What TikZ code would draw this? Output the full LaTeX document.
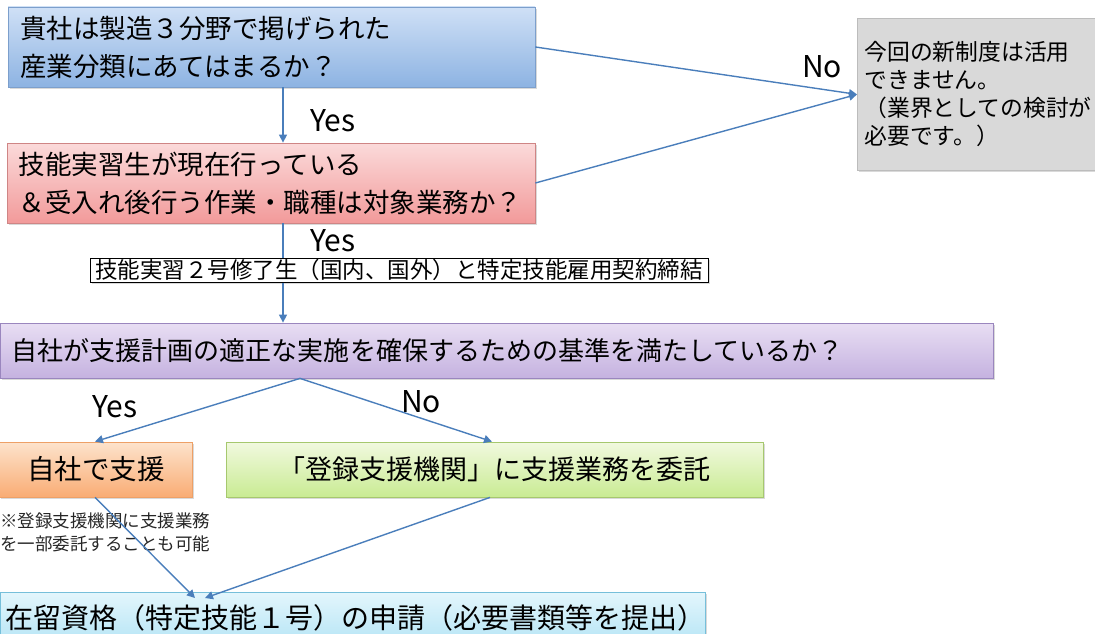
\documentclass[tikz,border=0pt]{standalone}
\usepackage{fontspec}
\setmainfont{Noto Sans CJK JP}
\usetikzlibrary{arrows.meta,shadows}
\definecolor{arrowc}{HTML}{4A7EBB}
\definecolor{bluet}{HTML}{CFE0F6}
\definecolor{blueb}{HTML}{8DB3E2}
\definecolor{bluebd}{HTML}{7C9FCC}
\definecolor{redt}{HTML}{FBDADA}
\definecolor{redb}{HTML}{F29A9A}
\definecolor{redbd}{HTML}{CF8585}
\definecolor{purt}{HTML}{E8DEF3}
\definecolor{purb}{HTML}{C5B2E0}
\definecolor{purbd}{HTML}{9A86BE}
\definecolor{orat}{HTML}{FDE3CC}
\definecolor{orab}{HTML}{F9AC74}
\definecolor{orabd}{HTML}{EEA066}
\definecolor{grnt}{HTML}{F1F9DF}
\definecolor{grnb}{HTML}{C9EB93}
\definecolor{grnbd}{HTML}{A6C86E}
\definecolor{cyat}{HTML}{E3F6FC}
\definecolor{cyab}{HTML}{AEE2F4}
\definecolor{cyabd}{HTML}{76BFDA}
\definecolor{grayf}{HTML}{D9D9D9}
\definecolor{graybd}{HTML}{BCBCBC}
\begin{document}
\begin{tikzpicture}[x=1pt,y=-1pt,
  box/.style={draw, line width=0.8pt, inner sep=0pt,
    drop shadow={shadow xshift=1.5pt, shadow yshift=-2pt, opacity=0.3}},
  arr/.style={draw=arrowc, line width=1.4pt, -{Triangle[length=8pt,width=8pt]}},
  ln/.style={draw=arrowc, line width=1.4pt},
  big/.style={font=\fontsize{26.5}{38}\selectfont},
  lab/.style={font=\fontsize{30}{32}\selectfont, inner sep=0pt},
]
\useasboundingbox (0,0) rectangle (1095,634);

% nodes
\node[box, big, draw=bluebd, top color=bluet, bottom color=blueb,
  minimum width=527pt, minimum height=80pt, text width=503pt, align=left]
  (q1) at (271.5,47) {貴社は製造３分野で掲げられた\\産業分類にあてはまるか？};
\node[box, big, draw=redbd, top color=redt, bottom color=redb,
  minimum width=528pt, minimum height=80pt, text width=504pt, align=left]
  (q2) at (271,183) {技能実習生が現在行っている\\＆受入れ後行う作業・職種は対象業務か？};
\node[box, draw=graybd, fill=grayf, font=\fontsize{22.8}{28}\selectfont,
  minimum width=250pt, minimum height=152pt, text width=236pt, align=left,
  anchor=north west]
  (ng) at (857,18) {今回の新制度は活用\\できません。\\（業界としての検討が\\必要です。）};
\node[box, draw=black, line width=1pt, fill=white, font=\fontsize{22.5}{24}\selectfont,
  minimum width=618pt, minimum height=24pt, inner xsep=4pt]
  (lbl) at (399,270) {技能実習２号修了生（国内、国外）と特定技能雇用契約締結};
\node[box, draw=purbd, top color=purt, bottom color=purb,
  font=\fontsize{26}{30}\selectfont,
  minimum width=993pt, minimum height=55pt, text width=969pt, align=left]
  (q3) at (496.5,350.5) {自社が支援計画の適正な実施を確保するための基準を満たしているか？};
\node[box, draw=orabd, top color=orat, bottom color=orab,
  font=\fontsize{27.5}{30}\selectfont,
  minimum width=193pt, minimum height=55pt]
  (own) at (96,469.5) {自社で支援};
\node[box, draw=grnbd, top color=grnt, bottom color=grnb,
  font=\fontsize{27}{30}\selectfont,
  minimum width=537pt, minimum height=55pt]
  (ent) at (494.5,469.5) {「登録支援機関」に支援業務を委託};
\node[box, draw=cyabd, top color=cyat, bottom color=cyab,
  minimum width=705pt, minimum height=60pt, anchor=north west]
  (app) at (0,592) {};
\node[font=\fontsize{28}{30}\selectfont, inner sep=0pt, anchor=west]
  (apptxt) at (5,618) {在留資格（特定技能１号）の申請（必要書類等を提出）};
\node[font=\fontsize{17.5}{23}\selectfont, inner sep=0pt, anchor=north west, align=left,
  text=black!85]
  (note) at (0,513) {※登録支援機関に支援業務\\を一部委託することも可能};

% labels
\node[lab] (y1) at (333,121) {Yes};
\node[lab] (y2) at (333,241) {Yes};
\node[lab] (n1) at (822,67) {No};
\node[lab] (y3) at (115,407) {Yes};
\node[lab] (n2) at (421,402) {No};

% helper coordinates
\coordinate (x283) at (283,0);
\coordinate (x300) at (300,0);
\coordinate (x195) at (195,0);
\coordinate (x205) at (205,0);
\coordinate (x95) at (95,0);
\coordinate (x490) at (490,0);
\coordinate (x492) at (492,0);

% connectors
\draw[arr] (q1.east) -- (ng.west);
\draw[arr] (q2.east) -- (ng.west);
\draw[arr] (q1.south -| x283) -- (q2.north -| x283);
\draw[ln] (q2.south -| x283) -- (lbl.north -| x283);
\draw[arr] (lbl.south -| x283) -- (q3.north -| x283);
\draw[arr] (q3.south -| x300) -- (own.north -| x95);
\draw[arr] (q3.south -| x300) -- (ent.north -| x492);
\draw[arr] (own.south -| x95) -- ([yshift=-6pt]app.north -| x195);
\draw[arr] (ent.south -| x490) -- ([yshift=-6pt]app.north -| x205);
\end{tikzpicture}
\end{document}
